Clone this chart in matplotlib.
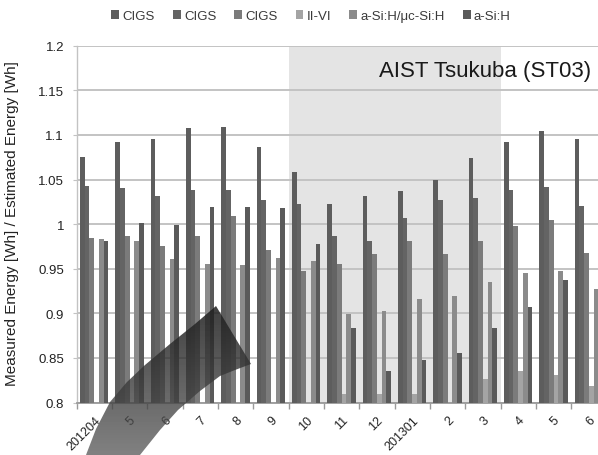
import numpy as np
import matplotlib
matplotlib.use("Agg")
import matplotlib.pyplot as plt
from matplotlib.patches import Polygon

# ---------------- data ----------------
months = ["201204", "5", "6", "7", "8", "9", "10", "11", "12",
          "201301", "2", "3", "4", "5", "6"]
series_names = ["CIGS", "CIGS", "CIGS", "II-VI", "a-Si:H/\u03bcc-Si:H", "a-Si:H"]
nan = np.nan
cigs_a = [1.075, 1.092, 1.095, 1.108, 1.109, 1.086, 1.058, 1.023, 1.031,
          1.037, 1.050, 1.074, 1.092, 1.104, 1.095]
cigs_b = [1.043, 1.041, 1.032, 1.038, 1.038, 1.027, 1.022, 0.987, 0.981,
          1.007, 1.027, 1.029, 1.038, 1.042, 1.020]
cigs_c = [0.984, 0.987, 0.976, 0.987, 1.009, 0.971, 0.947, 0.955, 0.967,
          0.981, 0.967, 0.981, 0.998, 1.005, 0.968]
ii_vi = [nan, nan, nan, nan, nan, nan, nan, 0.809, 0.810,
         0.810, nan, 0.826, 0.835, 0.831, 0.819]
asi_uc = [0.983, 0.981, 0.961, 0.955, 0.954, 0.962, 0.959, 0.899, 0.903,
          0.916, 0.919, 0.935, 0.945, 0.947, 0.927]
asi = [0.981, 1.001, 0.999, 1.019, 1.019, 1.018, 0.978, 0.884, 0.835,
       0.848, 0.856, 0.884, 0.907, 0.937, nan]
shaded_first, shaded_last = 6, 11   # months 10 .. 3 (winter period)
y_ticks = [0.8, 0.85, 0.9, 0.95, 1.0, 1.05, 1.1, 1.15, 1.2]
y_tick_labels = ["0.8", "0.85", "0.9", "0.95", "1", "1.05", "1.1", "1.15", "1.2"]

series = [cigs_a, cigs_b, cigs_c, ii_vi, asi_uc, asi]
colors = ["#5d5d5d", "#646464", "#7b7b7b", "#a4a4a4", "#8b8b8b", "#5a5a5a"]

# ---------------- figure ----------------
W, H = 598, 456
fig = plt.figure(figsize=(W / 100, H / 100), dpi=100)
plt.rcParams['font.family'] = ['Liberation Sans', 'DejaVu Sans']

left_px, right_px, top_px, bot_px = 76.5, 606.5, 46.7, 403.5
ax = fig.add_axes([left_px / W, (H - bot_px) / H,
                   (right_px - left_px) / W, (bot_px - top_px) / H])

n = len(months)
x = np.arange(n)
gap = 1.5
bw = 1.0 / (len(series) + gap)
for j, (vals, col, name) in enumerate(zip(series, colors, series_names)):
    offs = -0.5 + (gap / 2 + j + 0.5) * bw
    ax.bar(x + offs, vals, width=bw, color=col, label=name, zorder=3,
           linewidth=0)

ax.axvspan(shaded_first - 0.5, shaded_last + 0.5, color="#e4e4e4", zorder=0,
           linewidth=0)

ax.set_xlim(-0.5, n - 0.5)
ax.set_ylim(0.8, 1.2)
ax.set_yticks(y_ticks)
ax.set_yticklabels(y_tick_labels, fontsize=9.5, color="#222222")
ax.yaxis.grid(True, color="#c3c3c3", linewidth=1.4, zorder=1)
ax.set_axisbelow(True)
ax.tick_params(axis='y', length=3, color="#c3c3c3", pad=6)

ax.set_xticks(x)
ax.set_xticklabels(months, rotation=45, ha='right', rotation_mode='anchor',
                   fontsize=9, color="#222222")
ax.tick_params(axis='x', which='major', length=0, pad=8)
ax.set_xticks(np.arange(-0.5, n, 1.0), minor=True)
ax.tick_params(axis='x', which='minor', length=4, color="#9a9a9a", width=1)

for s in ['top', 'right']:
    ax.spines[s].set_visible(False)
ax.spines['left'].set_color("#c3c3c3")
ax.spines['left'].set_linewidth(1.0)
ax.spines['bottom'].set_color("#9a9a9a")
ax.spines['bottom'].set_linewidth(1.3)
ax.set_facecolor("white")

fig.text(12 / W, 1 - 224 / H, "Measured Energy [Wh] / Estimated Energy [Wh]",
         rotation=90, ha='center', va='center', fontsize=11, color="#222222")

fig.text(591 / W, 1 - 71 / H, "AIST Tsukuba (ST03)", ha='right', va='center',
         fontsize=16, color="#1a1a1a")

leg = fig.legend(loc='center', bbox_to_anchor=(311 / W, 1 - 17 / H), ncol=6,
                 frameon=False, fontsize=9.5, handlelength=0.6,
                 handleheight=0.6, handletextpad=0.25, columnspacing=1.35,
                 labelcolor="#3a3a3a")

# ---------------- decorative curved arrow overlay ----------------
ov = fig.add_axes([0, 0, 1, 1], zorder=10)
ov.set_axis_off()
ov.patch.set_alpha(0)
pts_down = [(84, 470), (86, 456), (96, 430), (110, 403), (127, 383), (145, 366),
            (170, 345), (195, 325), (216, 307), (251, 365), (235, 371),
            (220, 377), (200, 392), (178, 411), (160, 431), (140, 456),
            (136, 470)]
pts = [(px, H - py) for px, py in pts_down]
poly = Polygon(pts, closed=True, facecolor='none', edgecolor='none')
ov.add_patch(poly)
N = 200
t = np.linspace(0, 1, N)  # 0 bottom -> 1 top
g = 0.36 - 0.26 * t
a = 0.74 + 0.12 * t
img = np.zeros((N, 1, 4))
img[:, 0, 0] = g
img[:, 0, 1] = g
img[:, 0, 2] = g
img[:, 0, 3] = a
im = ov.imshow(img, extent=(70, 270, -14, 160), origin='lower',
               aspect='auto', interpolation='bilinear')
im.set_clip_path(poly)
ov.set_xlim(0, W)
ov.set_ylim(0, H)

fig.savefig("out.png", dpi=100)
